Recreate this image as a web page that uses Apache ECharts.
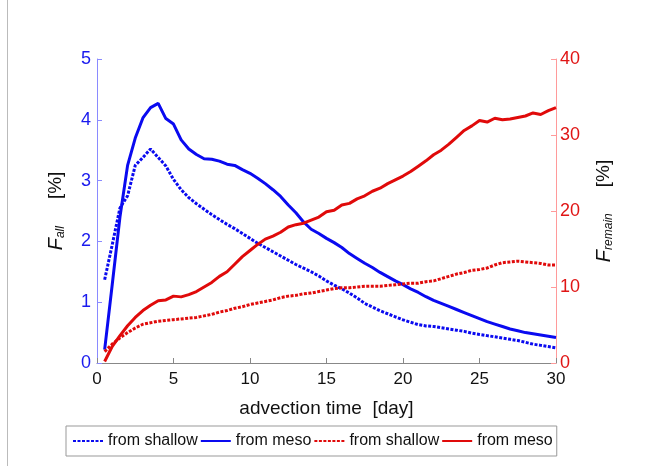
<!DOCTYPE html>
<html>
<head>
<meta charset="utf-8">
<script src="https://cdn.jsdelivr.net/npm/echarts@6/dist/echarts.min.js"></script>
<style>
html,body{margin:0;padding:0;background:#fff;}
#chart{width:646px;height:466px;}
</style>
</head>
<body>
<div id="chart"></div>
<script>
// advection time [day]
var days = [0.5,1,1.5,2,2.5,3,3.5,4,4.5,5,5.5,6,6.5,7,7.5,8,8.5,9,9.5,10,
  10.5,11,11.5,12,12.5,13,13.5,14,14.5,15,15.5,16,16.5,17,17.5,18,18.5,19,19.5,20,
  20.5,21,21.5,22,22.5,23,23.5,24,24.5,25,25.5,26,26.5,27,27.5,28,28.5,29,29.5,30];

// F_all [%] (left axis)
var allShallow = [1.37,1.95,2.55,2.75,3.25,3.38,3.52,3.38,3.24,3.02,2.85,2.72,2.62,2.53,2.44,2.36,2.28,2.21,2.13,2.05,
  1.97,1.90,1.83,1.76,1.69,1.62,1.56,1.50,1.43,1.35,1.28,1.22,1.15,1.07,0.98,0.92,0.86,0.81,0.76,0.71,
  0.67,0.63,0.61,0.60,0.58,0.56,0.54,0.52,0.49,0.47,0.45,0.43,0.41,0.39,0.37,0.34,0.31,0.29,0.27,0.25];
var allMeso = [0.22,1.30,2.40,3.25,3.70,4.03,4.20,4.27,4.02,3.93,3.67,3.52,3.43,3.36,3.35,3.32,3.27,3.25,3.18,3.12,
  3.04,2.95,2.85,2.74,2.60,2.47,2.32,2.20,2.13,2.05,1.98,1.90,1.80,1.72,1.64,1.57,1.49,1.42,1.35,1.29,
  1.22,1.16,1.09,1.03,0.98,0.93,0.88,0.83,0.78,0.73,0.68,0.64,0.60,0.56,0.53,0.50,0.48,0.46,0.44,0.42];

// F_remain [%] (right axis)
var remainShallow = [1.5,2.5,3.3,4.0,4.6,5.1,5.3,5.5,5.6,5.7,5.8,5.9,6.0,6.2,6.4,6.7,6.9,7.2,7.4,7.7,
  7.9,8.1,8.3,8.6,8.8,8.9,9.1,9.2,9.4,9.6,9.8,9.9,9.9,10.0,10.1,10.1,10.1,10.2,10.3,10.4,
  10.5,10.5,10.7,10.8,11.1,11.4,11.7,11.9,12.2,12.3,12.5,12.9,13.2,13.3,13.4,13.3,13.2,13.1,12.9,12.9];
var remainMeso = [0.2,2.2,3.6,4.9,6.0,6.9,7.6,8.2,8.3,8.8,8.7,9.0,9.4,10.0,10.6,11.4,12.0,13.0,14.0,14.8,
  15.6,16.3,16.7,17.2,17.9,18.2,18.4,18.8,19.2,19.9,20.1,20.8,21.0,21.6,22.0,22.6,23.0,23.6,24.1,24.6,
  25.2,25.9,26.6,27.4,28.0,28.8,29.7,30.6,31.2,31.9,31.7,32.2,32.0,32.1,32.3,32.5,32.9,32.7,33.2,33.6];

var xTicks = [0,5,10,15,20,25,30];
var leftTicks = [0,1,2,3,4,5];
var rightTicks = [0,10,20,30,40];
var seriesNames = ['from shallow','from meso','from shallow\u200b','from meso\u200b'];

function pairs(ys){ return days.map(function(d,i){ return [d, ys[i]]; }); }

var BLUE = '#0a0af0', RED = '#e00a0a';
var FONT = 'Liberation Sans, Arial, sans-serif';

var chart = echarts.init(document.getElementById('chart'), null, {renderer:'canvas'});
chart.setOption({
  backgroundColor: '#ffffff',
  animation: false,
  textStyle: {fontFamily: FONT},
  graphic: [{
    type: 'line', shape: {x1: 7.5, y1: 0, x2: 7.5, y2: 466},
    style: {stroke: '#bbbbbb', lineWidth: 1}
  }],
  grid: {left: 97, right: 90, top: 59, bottom: 103, containLabel: false},
  legend: {
    left: 66, top: 426,
    padding: [7, 4, 7, 6],
    itemGap: 2,
    itemWidth: 30, itemHeight: 4,
    borderColor: '#999999', borderWidth: 1,
    backgroundColor: '#ffffff',
    itemStyle: {opacity: 0},
    textStyle: {fontSize: 16, color: '#111', fontFamily: FONT},
    data: seriesNames
  },
  xAxis: {
    type: 'value', min: xTicks[0], max: xTicks[xTicks.length-1], interval: 5,
    name: 'advection time  [day]', nameLocation: 'middle', nameGap: 36,
    nameTextStyle: {fontSize: 19, color: '#111', fontFamily: FONT},
    axisLine: {lineStyle: {color: '#888888', width: 1}},
    axisTick: {inside: true, length: 5, lineStyle: {color: '#888888'}},
    axisLabel: {fontSize: 17, color: '#111', margin: 8, fontFamily: FONT},
    splitLine: {show: false}
  },
  yAxis: [{
    type: 'value', min: leftTicks[0], max: leftTicks[leftTicks.length-1], interval: 1, position: 'left',
    name: '{f|F}{s|all}{p|[%]}', nameLocation: 'middle', nameRotate: 90, nameGap: 30,
    nameTextStyle: {fontSize: 19, color: '#111', fontFamily: FONT,
      rich: {
        f: {fontSize: 20, fontStyle: 'italic', color: '#111', fontFamily: FONT},
        s: {fontSize: 12, fontStyle: 'italic', color: '#111', fontFamily: FONT, padding: [10,0,0,0]},
        p: {fontSize: 19, color: '#111', fontFamily: FONT, padding: [0,0,0,27]}
      }},
    axisLine: {show: true, lineStyle: {color: '#8a8aff', width: 1}},
    axisTick: {inside: true, length: 5, lineStyle: {color: '#8a8aff'}},
    axisLabel: {fontSize: 18, color: '#1a1aee', margin: 6, fontFamily: FONT},
    splitLine: {show: false}
  }, {
    type: 'value', min: rightTicks[0], max: rightTicks[rightTicks.length-1], interval: 10, position: 'right',
    name: '{f|F}{s|remain}{p|[%]}', nameLocation: 'middle', nameRotate: 90, nameGap: 37,
    nameTextStyle: {fontSize: 19, color: '#111', fontFamily: FONT,
      rich: {
        f: {fontSize: 20, fontStyle: 'italic', color: '#111', fontFamily: FONT},
        s: {fontSize: 12, fontStyle: 'italic', color: '#111', fontFamily: FONT, padding: [10,0,0,0]},
        p: {fontSize: 19, color: '#111', fontFamily: FONT, padding: [0,0,0,26]}
      }},
    axisLine: {show: true, lineStyle: {color: '#ff9a9a', width: 1}},
    axisTick: {inside: true, length: 5, lineStyle: {color: '#ff9a9a'}},
    axisLabel: {fontSize: 18, color: '#e01515', margin: 4, fontFamily: FONT},
    splitLine: {show: false}
  }],
  series: [
    {name: seriesNames[0], type: 'line', yAxisIndex: 0, data: pairs(allShallow), showSymbol: false, symbol: 'none',
     lineStyle: {color: BLUE, width: 3, type: [3, 1.5]}, itemStyle: {color: BLUE}},
    {name: seriesNames[1], type: 'line', yAxisIndex: 0, data: pairs(allMeso), showSymbol: false, symbol: 'none',
     lineStyle: {color: BLUE, width: 3, type: 'solid'}, itemStyle: {color: BLUE}},
    {name: seriesNames[2], type: 'line', yAxisIndex: 1, data: pairs(remainShallow), showSymbol: false, symbol: 'none',
     lineStyle: {color: RED, width: 3, type: [3, 1.5]}, itemStyle: {color: RED}},
    {name: seriesNames[3], type: 'line', yAxisIndex: 1, data: pairs(remainMeso), showSymbol: false, symbol: 'none',
     lineStyle: {color: RED, width: 3, type: 'solid'}, itemStyle: {color: RED}}
  ]
});
</script>
</body>
</html>
